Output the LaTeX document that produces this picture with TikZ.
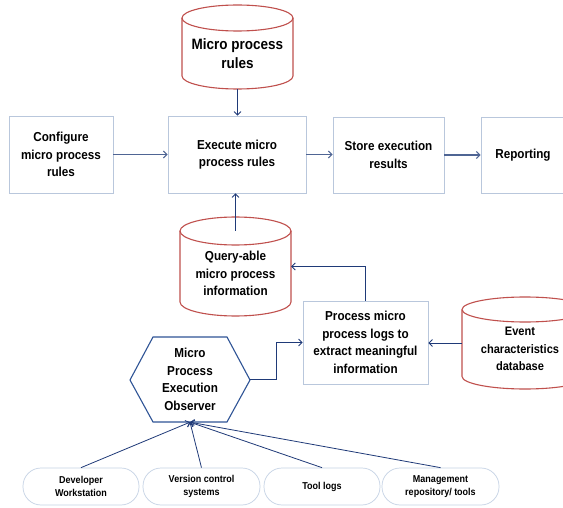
\documentclass[tikz,border=0pt]{standalone}
\usepackage{fontspec}
\setmainfont{Liberation Sans}[FakeStretch=0.9]
\usetikzlibrary{arrows.meta,calc}
\definecolor{boxc}{HTML}{B9C7DC}
\definecolor{pillc}{HTML}{C5D2E5}
\definecolor{cylc}{HTML}{C0504D}
\definecolor{hexc}{HTML}{2F5496}
\definecolor{arrc}{HTML}{1F3A78}
\definecolor{harrc}{HTML}{4F6594}
\tikzset{
  box/.style={draw=boxc, line width=0.8pt, align=center, inner sep=0pt,
    font=\fontsize{13}{17.5}\selectfont\bfseries},
  pill/.style={draw=pillc, line width=0.7pt, rounded corners=18pt, align=center,
    inner sep=0pt, minimum height=37pt, font=\fontsize{10}{12.5}\selectfont\bfseries},
  txt/.style={align=center, inner sep=0pt, font=\fontsize{13}{17.5}\selectfont\bfseries},
  cylstyle/.style={draw=cylc, line width=1.1pt},
  arr/.style={draw=arrc, line width=0.8pt, -{Straight Barb[length=3.5pt,width=7pt]}},
  harr/.style={draw=harrc, line width=1.1pt, -{Straight Barb[length=3.5pt,width=7pt]}},
}
\newcommand\dbcyl[8]{%
  \draw[cylstyle] (#2,#3+#6) ellipse [x radius=#5pt, y radius=#6pt];
  \draw[cylstyle] (#2-#5,#3+#6) -- (#2-#5,#4-#6) arc [start angle=180, end angle=360, x radius=#5pt, y radius=#6pt] -- (#2+#5,#3+#6);
  \node[shape=rectangle, minimum width={2*#5}, minimum height={#4-#3}, inner sep=0pt] (#1) at (#2,{(#3+#4)/2}) {};
  \coordinate (#1-top) at (#2,#3+#6);
  \node[txt,#8] (#1-t) at (#2,{(#3+#6+#4)/2}) {#7};
}
\begin{document}
\begin{tikzpicture}[x=1pt,y=-1pt]
\useasboundingbox (0,0) rectangle (563,508);
\fill[white] (0,0) rectangle (563,508);

% cylinders
\dbcyl{mpr}{237.5}{5}{89}{55.5}{13}{Micro process\\rules}{font=\fontsize{15}{19}\selectfont\bfseries}
\dbcyl{qmp}{235.5}{217}{316}{55.5}{14}{Query-able\\micro process\\information}{}
\dbcyl{ev}{525}{297}{389}{63}{12.5}{Event\\characteristics\\database}{xshift=-5pt, font=\fontsize{12.3}{17.5}\selectfont\bfseries}

% top row boxes
\node[box, minimum width=104pt, minimum height=77pt] (cfg) at (61,154.5) {Configure\\micro process\\rules};
\node[box, minimum width=138pt, minimum height=77pt] (exe) at (237,154.5) {Execute micro\\process rules};
\node[box, minimum width=111pt, minimum height=76pt] (sto) at (388.5,155) {Store execution\\results};
\node[box, minimum width=84pt, minimum height=76pt] (rep) at (523,155) {Reporting};

% process box
\node[box, minimum width=125pt, minimum height=83pt] (proc) at (365.5,342.5) {Process micro\\process logs to\\extract meaningful\\information};

% hexagon
\draw[draw=hexc, line width=1.1pt] (130,380) -- (153,337) -- (227,337) -- (250,380) -- (227,422) -- (153,422) -- cycle;
\node[txt, minimum width=120pt, minimum height=85pt] (obs) at (190,379.5) {Micro\\Process\\Execution\\Observer};

% bottom pills
\node[pill, minimum width=116pt] (dev) at (81,486.5) {Developer\\Workstation};
\node[pill, minimum width=117pt] (vcs) at (201.5,486.5) {Version control\\systems};
\node[pill, minimum width=116pt] (tool) at (322,486.5) {Tool logs};
\node[pill, minimum width=117pt] (mgmt) at (440.5,486.5) {Management\\repository/ tools};

% connectors
\draw[harr] (cfg.east) -- (cfg.east -| exe.west);
\draw[harr] (exe.east) -- (exe.east -| sto.west);
\draw[harr] (sto.east) -- (sto.east -| rep.west);
\draw[arr] (mpr.south) -- (mpr.south |- exe.north);
\draw[arr] (qmp-top) -- (qmp-top |- exe.south);
\draw[arr] (proc.north) |- (qmp.east);
\draw[arr] (ev.west) -- (ev.west -| proc.east);
\draw[arr] (obs.east) -- ++(26,0) |- (proc.west);
\draw[arr] (dev.north) -- (obs.south);
\draw[arr] (vcs.north) -- (obs.south);
\draw[arr] (tool.north) -- (obs.south);
\draw[arr] (mgmt.north) -- (obs.south);
\end{tikzpicture}
\end{document}
